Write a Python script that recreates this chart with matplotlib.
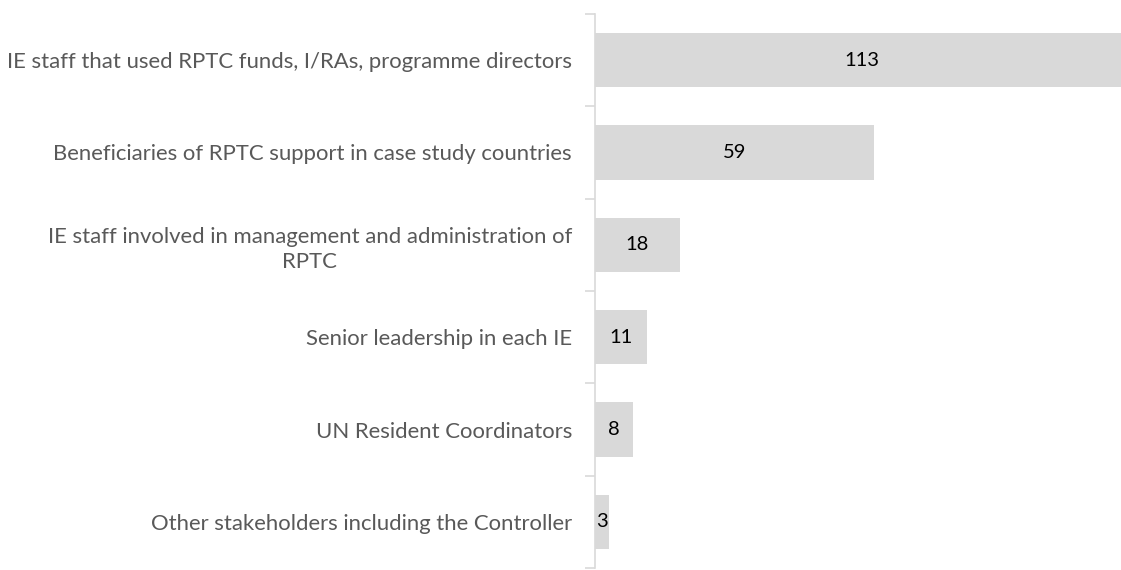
import matplotlib
matplotlib.use("Agg")
import matplotlib.pyplot as plt

categories = [
    "IE staff that used RPTC funds, I/RAs, programme directors",
    "Beneficiaries of RPTC support in case study countries",
    "IE staff involved in management and administration of\nRPTC",
    "Senior leadership in each IE",
    "UN Resident Coordinators",
    "Other stakeholders including the Controller",
]
counts = [113, 59, 18, 11, 8, 3]

plt.rcParams['font.family'] = ['Lato', 'DejaVu Sans']

fig = plt.figure(figsize=(11.21, 5.70), dpi=100)
ax = fig.add_axes([595 / 1121, 2 / 570, 1 - 595 / 1121, 554 / 570])

pos = list(range(len(categories)))
ax.barh(pos, counts, height=0.585, color="#d9d9d9")
for p, v in zip(pos, counts):
    ax.text(v / 2, p, str(v), ha="center", va="center", fontsize=14.5, color="black")

# the longest bar runs off the right edge in the original
ax.set_ylim(len(categories) - 0.5, -0.5)
ax.set_xlim(0, 111.4)
ax.set_yticks(pos)
ax.set_yticklabels(categories, fontsize=15.9, color="#595959",
                   multialignment="center", linespacing=1.35)
ax.tick_params(axis="y", length=0, pad=16.5)
ax.set_yticks([i - 0.5 for i in range(len(categories) + 1)], minor=True)
ax.tick_params(axis="y", which="minor", length=7, color="#d9d9d9", width=1.2)
ax.set_xticks([])
for s in ["top", "right", "bottom"]:
    ax.spines[s].set_visible(False)
ax.spines["left"].set_color("#d9d9d9")
ax.spines["left"].set_linewidth(1.2)

fig.savefig("out.png", dpi=100)
